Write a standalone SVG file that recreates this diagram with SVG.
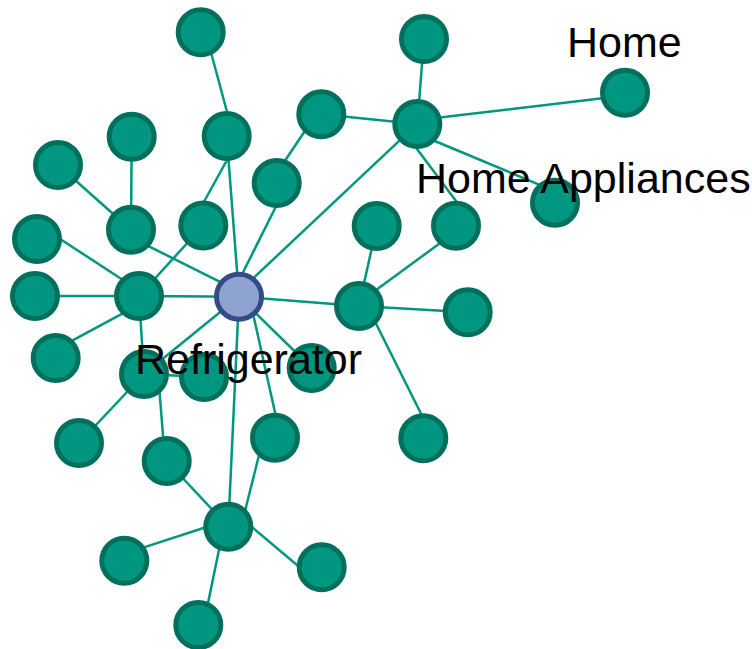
<svg xmlns="http://www.w3.org/2000/svg" width="752" height="649" viewBox="0 0 752 649">
  <style>
    .edge { stroke: #00967F; stroke-width: 2.5; fill: none; }
    .node circle { fill: #009680; stroke: #00705C; stroke-width: 5; }
    #n-refrigerator circle { fill: #8FA3D0; stroke: #354B87; }
    .label { font-family: "Liberation Sans", Arial, sans-serif; font-size: 43px; fill: #000000; }
  </style>
  <rect width="752" height="649" fill="#FFFFFF"/>

  <!-- connectors -->
  <g id="edges">
    <line class="edge" x1="209" y1="45" x2="229.2" y2="120"/>
    <line class="edge" x1="424" y1="39" x2="417.3" y2="124"/>
    <line class="edge" x1="425" y1="119.3" x2="615" y2="96.7"/>
    <line class="edge" x1="321.3" y1="114.3" x2="417.3" y2="124"/>
    <line class="edge" x1="430" y1="139" x2="548" y2="188.3"/>
    <line class="edge" x1="414" y1="145" x2="459" y2="205"/>
    <line class="edge" x1="250" y1="281.3" x2="405" y2="135.4"/>
    <line class="edge" x1="306.9" y1="128" x2="282.1" y2="165"/>
    <line class="edge" x1="279.2" y1="200" x2="239.2" y2="280"/>
    <line class="edge" x1="226.7" y1="136" x2="239" y2="296.7"/>
    <line class="edge" x1="229.5" y1="155.5" x2="202.2" y2="205"/>
    <line class="edge" x1="203.3" y1="225.5" x2="139" y2="296"/>
    <line class="edge" x1="131.7" y1="136.7" x2="131" y2="229.7"/>
    <line class="edge" x1="58" y1="165" x2="131" y2="229.7"/>
    <line class="edge" x1="140" y1="241.9" x2="225" y2="284.3"/>
    <line class="edge" x1="57" y1="237" x2="128" y2="283.2"/>
    <line class="edge" x1="35" y1="296" x2="139" y2="296"/>
    <line class="edge" x1="68" y1="342.8" x2="127" y2="311.2"/>
    <line class="edge" x1="139" y1="296" x2="239" y2="296.7"/>
    <line class="edge" x1="139" y1="296" x2="144" y2="374"/>
    <line class="edge" x1="239" y1="296.7" x2="144" y2="374"/>
    <line class="edge" x1="144" y1="374" x2="204" y2="377"/>
    <line class="edge" x1="79" y1="443" x2="144" y2="374"/>
    <line class="edge" x1="159" y1="385" x2="164" y2="448"/>
    <line class="edge" x1="239" y1="296.7" x2="311.7" y2="368"/>
    <line class="edge" x1="252.2" y1="310" x2="277.8" y2="425"/>
    <line class="edge" x1="239" y1="296.7" x2="228.3" y2="526.7"/>
    <line class="edge" x1="239" y1="296.7" x2="359" y2="306"/>
    <line class="edge" x1="359" y1="306" x2="376.7" y2="226"/>
    <line class="edge" x1="372" y1="292.9" x2="446" y2="238.8"/>
    <line class="edge" x1="359" y1="306" x2="467.7" y2="312.3"/>
    <line class="edge" x1="373.2" y1="318" x2="426.7" y2="425"/>
    <line class="edge" x1="166.7" y1="461" x2="228.3" y2="526.7"/>
    <line class="edge" x1="261.6" y1="445" x2="244" y2="515"/>
    <line class="edge" x1="130" y1="551.9" x2="215" y2="524.2"/>
    <line class="edge" x1="245" y1="521.2" x2="305" y2="571.8"/>
    <line class="edge" x1="221" y1="540" x2="206.2" y2="612"/>
  </g>

  <!-- nodes -->
  <g id="n1" class="node"><circle cx="200.7" cy="32.3" r="22.5"/></g>
  <g id="n2" class="node"><circle cx="424" cy="39" r="22.5"/></g>
  <g id="n-home" class="node"><circle cx="625" cy="92.7" r="22.5"/></g>
  <g id="n4" class="node"><circle cx="321.3" cy="114.3" r="22.5"/></g>
  <g id="n-home-appliances" class="node"><circle cx="417.3" cy="124" r="22.5"/></g>
  <g id="n6" class="node"><circle cx="131.7" cy="136.7" r="22.5"/></g>
  <g id="n7" class="node"><circle cx="226.7" cy="136" r="22.5"/></g>
  <g id="n8" class="node"><circle cx="58" cy="165" r="22.5"/></g>
  <g id="n9" class="node"><circle cx="276.7" cy="183" r="22.5"/></g>
  <g id="n10" class="node"><circle cx="555" cy="202.7" r="22.5"/></g>
  <g id="n11" class="node"><circle cx="131" cy="229.7" r="22.5"/></g>
  <g id="n12" class="node"><circle cx="203.3" cy="225.5" r="22.5"/></g>
  <g id="n13" class="node"><circle cx="376.7" cy="226" r="22.5"/></g>
  <g id="n14" class="node"><circle cx="456" cy="225.7" r="22.5"/></g>
  <g id="n15" class="node"><circle cx="37" cy="239" r="22.5"/></g>
  <g id="n16" class="node"><circle cx="35" cy="296" r="22.5"/></g>
  <g id="n17" class="node"><circle cx="139" cy="296" r="22.5"/></g>
  <g id="n18" class="node"><circle cx="359" cy="306" r="22.5"/></g>
  <g id="n19" class="node"><circle cx="467.7" cy="312.3" r="22.5"/></g>
  <g id="n20" class="node"><circle cx="55.7" cy="358" r="22.5"/></g>
  <g id="n21" class="node"><circle cx="144" cy="374" r="22.5"/></g>
  <g id="n22" class="node"><circle cx="204" cy="377" r="22.5"/></g>
  <g id="n23" class="node"><circle cx="311.7" cy="368" r="22.5"/></g>
  <g id="n24" class="node"><circle cx="79" cy="443" r="22.5"/></g>
  <g id="n25" class="node"><circle cx="275" cy="437.7" r="22.5"/></g>
  <g id="n26" class="node"><circle cx="166.7" cy="461" r="22.5"/></g>
  <g id="n27" class="node"><circle cx="423.3" cy="438.3" r="22.5"/></g>
  <g id="n28" class="node"><circle cx="228.3" cy="526.7" r="22.5"/></g>
  <g id="n29" class="node"><circle cx="124.3" cy="560.7" r="22.5"/></g>
  <g id="n30" class="node"><circle cx="321.7" cy="567.3" r="22.5"/></g>
  <g id="n31" class="node"><circle cx="198.3" cy="625" r="22.5"/></g>
  <g id="n-refrigerator" class="node"><circle cx="239" cy="296.7" r="22.5"/></g>

  <!-- labels -->
  <g id="labels">
    <text class="label" x="567" y="57">Home</text>
    <text class="label" x="416" y="193">Home Appliances</text>
    <text class="label" x="135" y="374">Refrigerator</text>
  </g>
</svg>
